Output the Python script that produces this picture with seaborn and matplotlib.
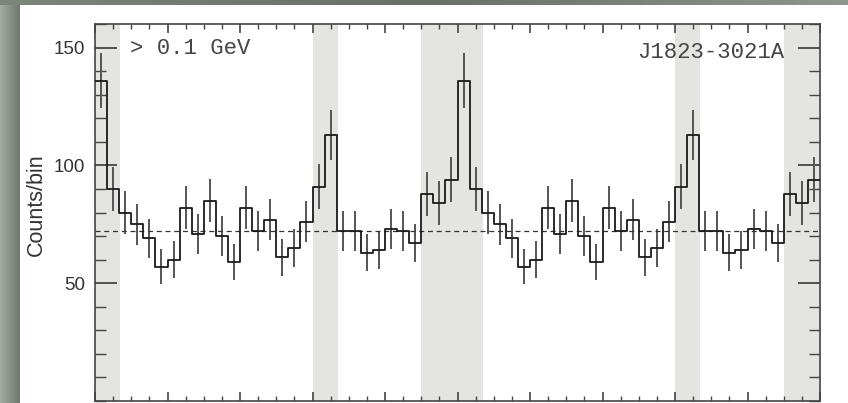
import numpy as np
import pandas as pd
import matplotlib
matplotlib.use('Agg')
import matplotlib.pyplot as plt
from matplotlib.colors import LinearSegmentedColormap
from matplotlib.ticker import MultipleLocator
import seaborn as sns

sns.set_theme(style='ticks')
plt.rcParams['font.family'] = ['Liberation Sans', 'DejaVu Sans']

# counts per phase bin (30 bins over one rotation), shown twice
counts = [136, 90, 80, 75, 69, 57, 60, 82, 71, 85,
          70, 59, 82, 72, 77, 61, 65, 76, 91, 113,
          72, 72, 63, 64, 73, 72, 67, 88, 84, 94]
n_bins = 30
background = 72
on_pulse = [(0.0, 0.07), (0.6, 0.67), (0.9, 1.07), (1.6, 1.67), (1.9, 2.0)]
energy_text = '> 0.1 GeV'
source_name = 'J1823-3021A'

vals = np.array(counts + counts, dtype=float)
phase = (np.arange(2 * n_bins) + 0.5) / n_bins
df = pd.DataFrame({'phase': phase, 'counts': vals})

fig = plt.figure(figsize=(8.48, 4.03), dpi=100)
fig.patch.set_facecolor('white')

# slide frame strips
side = fig.add_axes([0, 0, 20 / 848, 1])
side.imshow(np.linspace(0, 1, 50)[None, :], aspect='auto',
            cmap=LinearSegmentedColormap.from_list('s', ['#a2aca1', '#6f796e']))
side.axis('off')
top = fig.add_axes([0, 1 - 5 / 403, 1, 5 / 403])
top.imshow(np.linspace(0, 1, 50)[None, :], aspect='auto',
           cmap=LinearSegmentedColormap.from_list('t', ['#7b857a', '#687067', '#8c968b']))
top.axis('off')

ax = fig.add_axes([95 / 848, 2 / 403, 725 / 848, 377 / 403])

for a, b in on_pulse:
    ax.axvspan(a, b, color='#e4e5e0', lw=0, zorder=0)

sns.histplot(data=df, x='phase', weights='counts', bins=2 * n_bins, binrange=(0, 2),
             element='step', fill=False, color='#1a1a1a', linewidth=1.3, ax=ax, zorder=3)
ax.errorbar(df['phase'], df['counts'], yerr=np.sqrt(df['counts']), fmt='none',
            ecolor='#555555', elinewidth=1.4, capsize=0, zorder=2)
ax.axhline(background, color='#333333', lw=0.9, ls=(0, (4, 3)), zorder=2)

ax.set_xlim(0, 2)
ax.set_ylim(0, 160)
ax.set_xlabel('')
ax.set_ylabel('Counts/bin', fontsize=15.5, color='#333333')
ax.yaxis.set_label_coords(-0.066, 0.52)

ax.xaxis.set_major_locator(MultipleLocator(0.2))
ax.xaxis.set_minor_locator(MultipleLocator(0.05))
ax.yaxis.set_minor_locator(MultipleLocator(10))
ax.set_yticks([50, 100, 150])
ax.tick_params(axis='x', which='both', direction='in', top=True, bottom=True,
               labelbottom=False, color='#444444')
ax.tick_params(axis='x', which='major', length=6.5, width=1.2)
ax.tick_params(axis='x', which='minor', length=3.5, width=1.0)
ax.tick_params(axis='y', which='both', direction='in', left=True, right=True,
               color='#444444', labelsize=13.5, labelcolor='#333333', pad=7)
ax.tick_params(axis='y', which='major', length=16, width=1.3)
ax.tick_params(axis='y', which='minor', length=8, width=1.0)
for s in ax.spines.values():
    s.set_color('#444444')
    s.set_linewidth(1.2)
    s.set_visible(True)

ax.text(0.048, 0.935, energy_text, transform=ax.transAxes, family='Liberation Mono',
        fontsize=16, color='#444444', ha='left', va='center')
ax.text(0.951, 0.925, source_name, transform=ax.transAxes, family='Liberation Mono',
        fontsize=16, color='#444444', ha='right', va='center')

fig.savefig('out.png', dpi=100, facecolor=fig.get_facecolor())
